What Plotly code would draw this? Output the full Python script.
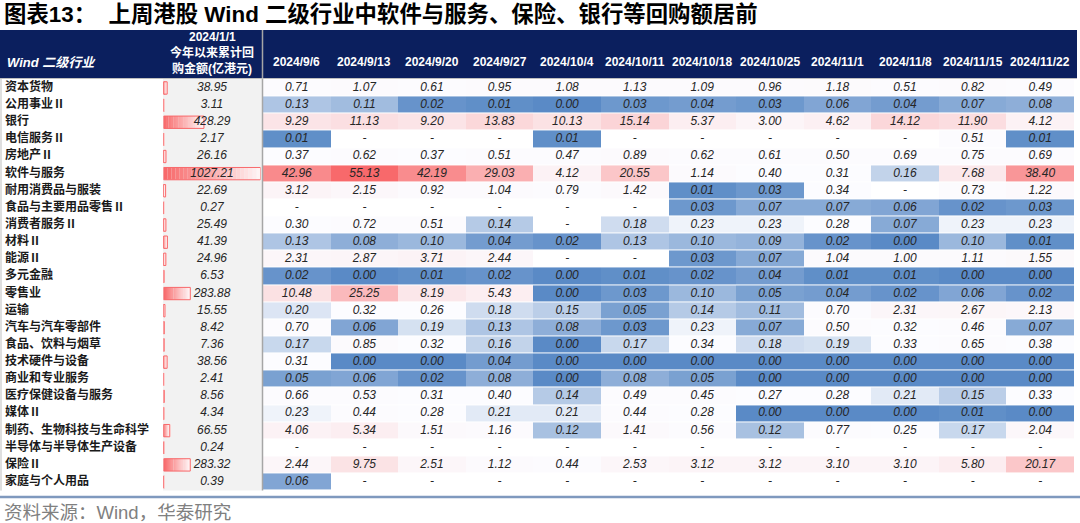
import numpy as np
import plotly.graph_objects as go

W, H = 1080, 523

title_text = "图表13：  上周港股 Wind 二级行业中软件与服务、保险、银行等回购额居前"
source_text = "资料来源：Wind，华泰研究"
col1_header = "Wind 二级行业"
col2_header = ["2024/1/1", "今年以来累计回", "购金额(亿港元)"]

dates = ["2024/9/6", "2024/9/13", "2024/9/20", "2024/9/27", "2024/10/4", "2024/10/11",
         "2024/10/18", "2024/10/25", "2024/11/1", "2024/11/8", "2024/11/15", "2024/11/22"]

industries = ["资本货物", "公用事业Ⅱ", "银行", "电信服务Ⅱ", "房地产Ⅱ", "软件与服务",
              "耐用消费品与服装", "食品与主要用品零售Ⅱ", "消费者服务Ⅱ", "材料Ⅱ", "能源Ⅱ",
              "多元金融", "零售业", "运输", "汽车与汽车零部件", "食品、饮料与烟草",
              "技术硬件与设备", "商业和专业服务", "医疗保健设备与服务", "媒体Ⅱ",
              "制药、生物科技与生命科学", "半导体与半导体生产设备", "保险Ⅱ", "家庭与个人用品"]

# 2024/1/1 以来累计回购金额(亿港元)
ytd = [38.95, 3.11, 428.29, 2.17, 26.16, 1027.21, 22.69, 0.27, 25.49, 41.39, 24.96,
       6.53, 283.88, 15.55, 8.42, 7.36, 38.56, 2.41, 8.56, 4.34, 66.55, 0.24, 283.32, 0.39]

N = None
wk_capital_goods = [0.71, 1.07, 0.61, 0.95, 1.08, 1.13, 1.09, 0.96, 1.18, 0.51, 0.82, 0.49]
wk_utilities = [0.13, 0.11, 0.02, 0.01, 0.00, 0.03, 0.04, 0.03, 0.06, 0.04, 0.07, 0.08]
wk_banks = [9.29, 11.13, 9.20, 13.83, 10.13, 15.14, 5.37, 3.00, 4.62, 14.12, 11.90, 4.12]
wk_telecom = [0.01, N, N, N, 0.01, N, N, N, N, N, 0.51, 0.01]
wk_real_estate = [0.37, 0.62, 0.37, 0.51, 0.47, 0.89, 0.62, 0.61, 0.50, 0.69, 0.75, 0.69]
wk_software = [42.96, 55.13, 42.19, 29.03, 4.12, 20.55, 1.14, 0.40, 0.31, 0.16, 7.68, 38.40]
wk_durables = [3.12, 2.15, 0.92, 1.04, 0.79, 1.42, 0.01, 0.03, 0.34, N, 0.73, 1.22]
wk_food_retail = [N, N, N, N, N, N, 0.03, 0.07, 0.07, 0.06, 0.02, 0.03]
wk_consumer_svc = [0.30, 0.72, 0.51, 0.14, N, 0.18, 0.23, 0.23, 0.28, 0.07, 0.23, 0.23]
wk_materials = [0.13, 0.08, 0.10, 0.04, 0.02, 0.13, 0.10, 0.09, 0.02, 0.00, 0.10, 0.01]
wk_energy = [2.31, 2.87, 3.71, 2.44, N, N, 0.03, 0.07, 1.04, 1.00, 1.11, 1.55]
wk_div_fin = [0.02, 0.00, 0.01, 0.02, 0.00, 0.01, 0.02, 0.04, 0.01, 0.01, 0.00, 0.00]
wk_retail = [10.48, 25.25, 8.19, 5.43, 0.00, 0.03, 0.10, 0.05, 0.04, 0.02, 0.06, 0.02]
wk_transport = [0.20, 0.32, 0.26, 0.18, 0.15, 0.05, 0.14, 0.11, 0.70, 2.31, 2.67, 2.13]
wk_autos = [0.70, 0.06, 0.19, 0.13, 0.08, 0.03, 0.23, 0.07, 0.50, 0.32, 0.46, 0.07]
wk_food_bev = [0.17, 0.85, 0.32, 0.16, 0.00, 0.17, 0.34, 0.18, 0.19, 0.33, 0.65, 0.38]
wk_tech_hw = [0.31, 0.00, 0.00, 0.04, 0.00, 0.00, 0.00, 0.00, 0.00, 0.00, 0.00, 0.00]
wk_commercial = [0.05, 0.06, 0.02, 0.08, 0.00, 0.08, 0.05, 0.00, 0.00, 0.00, 0.00, 0.00]
wk_healthcare = [0.66, 0.53, 0.31, 0.40, 0.14, 0.49, 0.45, 0.27, 0.28, 0.21, 0.15, 0.33]
wk_media = [0.23, 0.44, 0.28, 0.21, 0.21, 0.44, 0.28, 0.00, 0.00, 0.00, 0.01, 0.00]
wk_pharma = [4.06, 5.34, 1.51, 1.16, 0.12, 1.41, 0.56, 0.12, 0.77, 0.25, 0.17, 2.04]
wk_semis = [N, N, N, N, N, N, N, N, N, N, N, N]
wk_insurance = [2.44, 9.75, 2.51, 1.12, 0.44, 2.53, 3.12, 3.12, 3.10, 3.10, 5.80, 20.17]
wk_household = [0.06, N, N, N, N, N, N, N, N, N, N, N]

weekly = [wk_capital_goods, wk_utilities, wk_banks, wk_telecom, wk_real_estate, wk_software,
          wk_durables, wk_food_retail, wk_consumer_svc, wk_materials, wk_energy, wk_div_fin,
          wk_retail, wk_transport, wk_autos, wk_food_bev, wk_tech_hw, wk_commercial,
          wk_healthcare, wk_media, wk_pharma, wk_semis, wk_insurance, wk_household]

# ---------- helpers ----------
def fx(px):
    return px / W

def fy(py):
    return 1 - py / H

BLUE, WHITE, RED = "#5A8AC6", "#FCFCFF", "#F8696B"
NAVY = "#0B1F5E"

# 3-colour scale (min / 50th percentile / max), like Excel conditional formatting
vals = np.array([v for row in weekly for v in row if v is not None], dtype=float)
zmin, zmax = float(vals.min()), float(vals.max())
zmid = float(np.percentile(vals, 50))
mid_pos = (zmid - zmin) / (zmax - zmin)
colorscale = [[0.0, BLUE], [mid_pos, WHITE], [1.0, RED]]

row_top, row_bot = 79.4, 490.6
ydom = [fy(row_bot), fy(row_top)]
nrows = len(industries)

fig = go.Figure()

# heat cells
z = [[(np.nan if v is None else v) for v in row] for row in weekly]
fig.add_trace(go.Heatmap(
    z=z, x=dates, y=industries, colorscale=colorscale, zmin=zmin, zmax=zmax,
    showscale=False, ygap=1, xgap=0, hoverinfo="skip", xaxis="x", yaxis="y"))

# cell labels
cx, cy, ct = [], [], []
for ind, row in zip(industries, weekly):
    for d, v in zip(dates, row):
        cx.append(d)
        cy.append(ind)
        ct.append("-" if v is None else f"{v:.2f}")
fig.add_trace(go.Scatter(
    x=cx, y=cy, text=ct, mode="text", hoverinfo="skip", showlegend=False,
    textfont=dict(family="Liberation Sans, Arial", size=12, color="#262626", style="italic"),
    xaxis="x", yaxis="y"))

# data bars (gradient from red to white) for YTD column
ytd_max = max(ytd)
nseg = 24
c0 = np.array([0xF8, 0x69, 0x6B], dtype=float)
c1 = np.array([0xFF, 0xF4, 0xF4], dtype=float)
for k in range(nseg):
    t = k / (nseg - 1)
    c = c0 + (c1 - c0) * t
    col = f"rgb({int(c[0])},{int(c[1])},{int(c[2])})"
    fig.add_trace(go.Bar(
        x=[v / nseg for v in ytd], base=[v * k / nseg for v in ytd], y=industries,
        orientation="h", width=0.72, marker=dict(color=col, line=dict(width=0)),
        hoverinfo="skip", showlegend=False, xaxis="x2", yaxis="y"))
fig.add_trace(go.Bar(
    x=ytd, y=industries, orientation="h", width=0.72,
    marker=dict(color="rgba(0,0,0,0)", line=dict(width=1, color=RED)),
    hoverinfo="skip", showlegend=False, xaxis="x2", yaxis="y"))
fig.add_trace(go.Scatter(
    x=[ytd_max / 2] * nrows, y=industries, text=[f"{v:.2f}" for v in ytd], mode="text",
    hoverinfo="skip", showlegend=False,
    textfont=dict(family="Liberation Sans, Arial", size=12, color="#262626", style="italic"),
    xaxis="x2", yaxis="y"))

# industry names
fig.add_trace(go.Scatter(
    x=[5] * nrows, y=industries, text=industries, mode="text", textposition="middle right",
    hoverinfo="skip", showlegend=False,
    textfont=dict(family="Noto Sans CJK SC", size=12, color="#1a1a1a", weight="bold"),
    xaxis="x3", yaxis="y"))

ax_common = dict(visible=False, fixedrange=True, showgrid=False, zeroline=False)
fig.update_layout(
    width=W, height=H, margin=dict(l=0, r=0, t=0, b=0),
    paper_bgcolor="white", plot_bgcolor="rgba(0,0,0,0)",
    barmode="overlay", showlegend=False,
    xaxis=dict(domain=[fx(263), fx(1074)], type="category", categoryorder="array",
               categoryarray=dates, range=[-0.5, len(dates) - 0.5], anchor="y", **ax_common),
    xaxis2=dict(domain=[fx(163.5), fx(260.5)], range=[0, ytd_max], anchor="y", **ax_common),
    xaxis3=dict(domain=[0, fx(163)], range=[0, 163], anchor="y", **ax_common),
    yaxis=dict(domain=ydom, type="category", categoryorder="array", categoryarray=industries,
               range=[nrows - 0.5, -0.5], **ax_common),
)

shapes = [
    # header band
    dict(type="rect", xref="paper", yref="paper", x0=0, x1=fx(1077), y0=fy(78), y1=fy(30),
         fillcolor=NAVY, line=dict(width=0), layer="below"),
    # grey background of YTD column
    dict(type="rect", xref="paper", yref="paper", x0=fx(163), x1=fx(262), y0=fy(row_bot), y1=fy(78),
         fillcolor="#F2F2F2", line=dict(width=0), layer="below"),
    # column separator
    dict(type="line", xref="paper", yref="paper", x0=fx(262.5), x1=fx(262.5), y0=fy(row_bot), y1=fy(30),
         line=dict(color="#A6A6A6", width=1.5), layer="above"),
    # left border
    dict(type="line", xref="paper", yref="paper", x0=fx(1), x1=fx(1), y0=fy(row_bot), y1=fy(78),
         line=dict(color="#BFBFBF", width=1), layer="above"),
    # header bottom border
    dict(type="line", xref="paper", yref="paper", x0=0, x1=fx(1077), y0=fy(78.5), y1=fy(78.5),
         line=dict(color="#BFBFBF", width=1), layer="above"),
    # bottom rule
    dict(type="line", xref="paper", yref="paper", x0=0, x1=1, y0=fy(497), y1=fy(497),
         line=dict(color="#7F99BE", width=2.5), layer="above"),
]
fig.update_layout(shapes=shapes)

ann = []
ann.append(dict(text=title_text, xref="paper", yref="paper", x=fx(2), y=fy(14), xanchor="left",
                yanchor="middle", showarrow=False,
                font=dict(family="Liberation Sans, Noto Sans CJK SC", size=22.4, color="#000000", weight="bold")))
ann.append(dict(text=source_text, xref="paper", yref="paper", x=fx(2), y=fy(512), xanchor="left",
                yanchor="middle", showarrow=False,
                font=dict(family="Liberation Sans, Noto Sans CJK SC", size=18.5, color="#808080")))
ann.append(dict(text=col1_header, xref="paper", yref="paper", x=fx(5), y=fy(62), xanchor="left",
                yanchor="middle", showarrow=False,
                font=dict(family="Liberation Sans, Noto Sans CJK SC", size=13, color="white",
                          weight="bold", style="italic")))
for txt, py in zip(col2_header, [37, 53, 69]):
    ann.append(dict(text=txt, xref="paper", yref="paper", x=fx(212), y=fy(py), xanchor="center",
                    yanchor="middle", showarrow=False,
                    font=dict(family="Liberation Sans, Noto Sans CJK SC", size=12, color="white",
                              weight="bold")))
for d in dates:
    ann.append(dict(text=d, xref="x", yref="paper", x=d, y=fy(62), xanchor="center",
                    yanchor="middle", showarrow=False,
                    font=dict(family="Liberation Sans, Arial", size=12, color="white", weight="bold")))
fig.update_layout(annotations=ann)

fig.write_html("out.html", config={"displayModeBar": False},
               post_script="document.body.style.margin='0';document.body.style.overflow='hidden';")
